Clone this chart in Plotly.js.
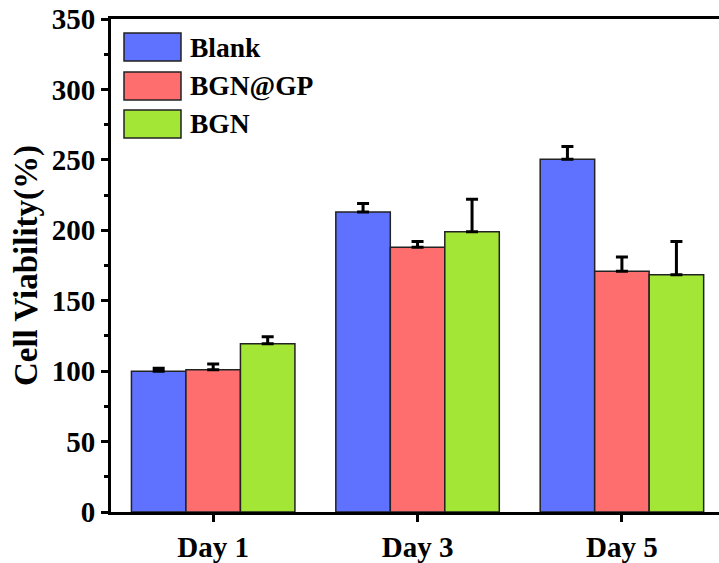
<!DOCTYPE html>
<html>
<head>
<meta charset="utf-8">
<script src="https://cdn.plot.ly/plotly-3.0.1.min.js"></script>
<style>html,body{margin:0;padding:0;background:#fff;}#chart{width:719px;height:563px;}</style>
</head>
<body>
<div id="chart"></div>
<script>
const categories = ['Day 1', 'Day 3', 'Day 5'];
const seriesNames = ['Blank', 'BGN@GP', 'BGN'];
const blankValues = [100, 213, 250.5];
const blankErrors = [2, 6, 9];
const bgnGpValues = [101, 188, 171];
const bgnGpErrors = [4, 4, 10];
const bgnValues = [119.5, 199, 168.5];
const bgnErrors = [5, 23, 23.5];
const colors = ['#5F72FF', '#FF6E6E', '#A3E635'];

const FONT = 'Liberation Serif, Times New Roman, serif';
const values = [blankValues, bgnGpValues, bgnValues];
const errors = [blankErrors, bgnGpErrors, bgnErrors];

const traces = seriesNames.map((name, i) => ({
  type: 'bar',
  name: name,
  x: categories,
  y: values[i],
  marker: {color: colors[i], line: {color: '#222', width: 1.5}},
  error_y: {type: 'data', array: errors[i], arrayminus: errors[i].map(() => 0), symmetric: false,
            color: '#000', thickness: 3, width: 6},
  showlegend: false
}));

const shapes = [];
const annotations = [];
const legendTop = [33, 72, 110];
seriesNames.forEach((name, i) => {
  shapes.push({type: 'rect', xref: 'paper', yref: 'paper',
    x0: (124 - 111) / 608, x1: (181 - 111) / 608,
    y0: (512 - legendTop[i] - 28) / 493, y1: (512 - legendTop[i]) / 493,
    fillcolor: colors[i], line: {color: '#222', width: 1.5}});
  annotations.push({xref: 'paper', yref: 'paper', x: (188 - 111) / 608, y: (512 - legendTop[i] - 14) / 493,
    xanchor: 'left', yanchor: 'middle', text: name, showarrow: false,
    font: {family: FONT, size: 27.5, weight: 700, color: '#000'}});
});

const layout = {
  width: 719, height: 563,
  margin: {l: 111, r: 0, t: 19, b: 51},
  paper_bgcolor: '#fff', plot_bgcolor: '#fff',
  barmode: 'group', bargap: 0.2, bargroupgap: 0,
  font: {family: FONT, size: 28, weight: 700, color: '#000'},
  xaxis: {
    range: [-0.5, 2.475], showline: true, linecolor: '#000', linewidth: 3, mirror: true,
    ticks: 'outside', ticklen: 7, tickwidth: 3, tickcolor: '#000',
    showgrid: false, zeroline: false,
    tickfont: {family: FONT, size: 29, weight: 700, color: '#000'}
  },
  yaxis: {
    range: [0, 350], dtick: 50, tick0: 0, showline: true, linecolor: '#000', linewidth: 3,
    ticks: 'outside', ticklen: 7, tickwidth: 3, tickcolor: '#000',
    minor: {dtick: 25, ticks: 'outside', ticklen: 4, tickwidth: 3, tickcolor: '#000', showgrid: false},
    showgrid: false, zeroline: false,
    tickfont: {family: FONT, size: 29, weight: 700, color: '#000'},
    title: {text: 'Cell Viability(%)', standoff: 5, font: {family: FONT, size: 33, weight: 700, color: '#000'}}
  },
  shapes: shapes,
  annotations: annotations
};

Plotly.newPlot('chart', traces, layout, {displayModeBar: false, staticPlot: true});
</script>
</body>
</html>
